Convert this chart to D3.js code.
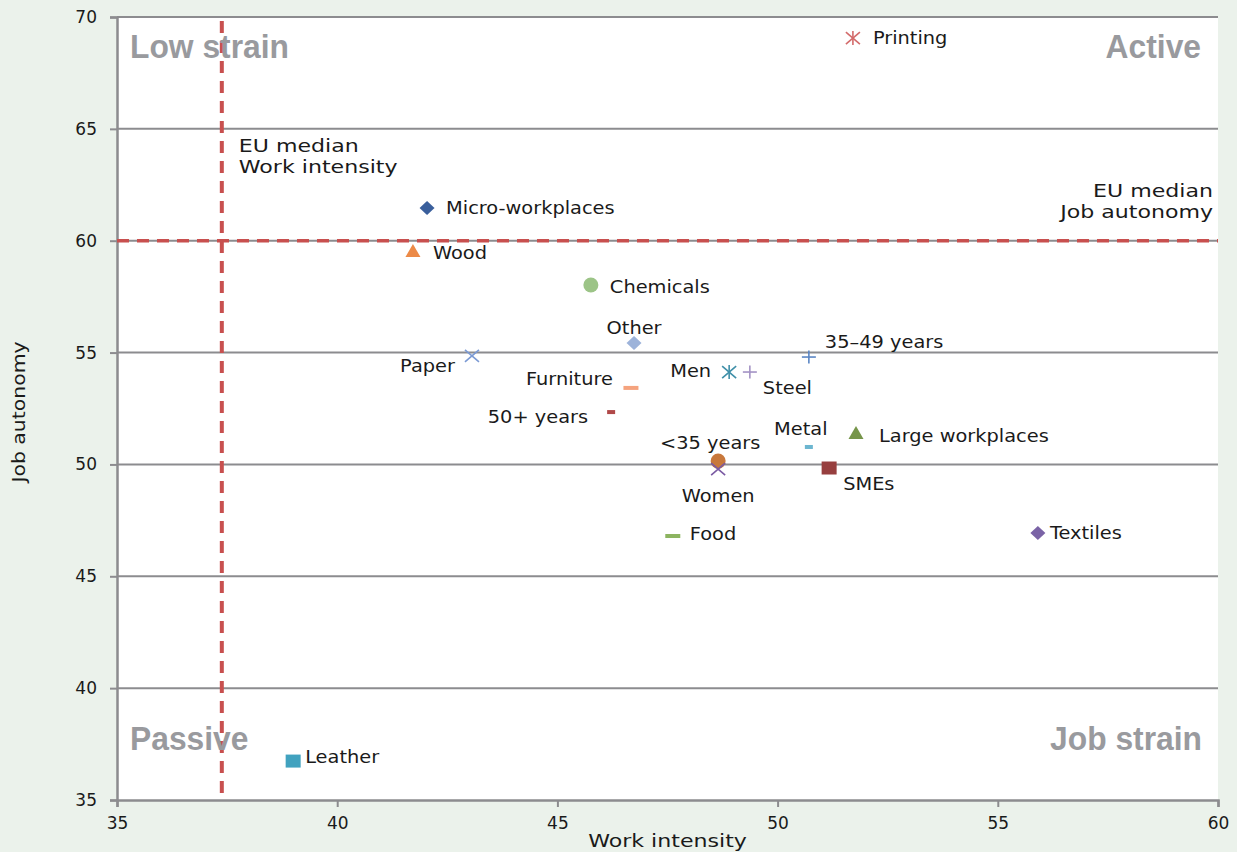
<!DOCTYPE html>
<html lang="en">
<head>
    <meta charset="UTF-8">
    <title>Work intensity vs job autonomy</title>
    <style>
        body { margin: 0; background: #ebf2eb; }
        text { font-family: "DejaVu Sans", Verdana, sans-serif; fill: #1a1a1a; }
        .quad { font-family: "Liberation Sans", Arial, sans-serif; font-weight: bold; font-size: 34px; fill: #999a9e; }
        .lbl { font-size: 17px; }
        .note { font-size: 17px; }
    </style>
    <script src="https://cdn.jsdelivr.net/npm/d3@7"></script>
</head>
<body>
<svg id="main" width="1237" height="852"></svg>
<script>

    // values
    var names = ["Printing", "Micro-workplaces", "Wood", "Chemicals", "Other", "Paper", "Furniture",
        "50+ years", "Men", "Steel", "35\u201349 years", "Metal", "Large workplaces", "<35 years",
        "Women", "SMEs", "Food", "Textiles", "Leather"];
    var workIntensity = [51.71, 42.04, 41.72, 45.76, 46.74, 43.06, 46.67,
        46.22, 48.90, 49.37, 50.71, 50.71, 51.78, 48.65,
        48.65, 51.17, 47.62, 55.91, 39.00];
    var jobAutonomy = [69.06, 61.46, 59.54, 58.02, 55.43, 54.85, 53.42,
        52.34, 54.13, 54.13, 54.80, 50.78, 51.40, 50.15,
        49.79, 49.84, 46.80, 46.93, 36.74];

    var xTicks = [35, 40, 45, 50, 55, 60];
    var yTicks = [35, 40, 45, 50, 55, 60, 65, 70];

    var euMedianWork = 37.38;
    var euMedianAutonomy = 60.0;

    // marker styles
    var shapes = ["asterisk", "diamond", "triangle", "circle", "diamond", "cross", "dash",
        "dashS", "asterisk", "plus", "plus", "dashS", "triangle", "circle",
        "cross", "square", "dash", "diamond", "square"];
    var colors = ["#d36b6b", "#3a5f9c", "#ec8a47", "#9cc487", "#9db3da", "#7b9ad4", "#f5a37e",
        "#b04848", "#3f8fa8", "#a392c4", "#5b86c5", "#6cb6d0", "#76954a", "#c8783c",
        "#7a5aa3", "#973f3f", "#8cb460", "#7a63a6", "#41a2bf"];

    // label placement: [anchor, dx, dy]
    var labelPos = [["start", 20, 0], ["start", 19, 0], ["start", 20, 2], ["start", 19, 2], ["middle", 0, -15],
        ["end", -17, 10], ["end", -18, -9], ["end", -23, 5], ["end", -18, -1], ["start", 13, 16],
        ["start", 16, -15], ["middle", -8, -18], ["start", 23, 3], ["middle", -8, -18], ["middle", 0, 27],
        ["start", 14, 16], ["start", 17, -2], ["start", 12, 0], ["start", 12, -4]];

    var svg = d3.select("svg"),
            margin = {top: 17, right: 19, bottom: 52, left: 117},
            width = +svg.attr("width") - margin.left - margin.right,
            height = +svg.attr("height") - margin.top - margin.bottom;

    svg.append("rect").attr("width", 1237).attr("height", 852).attr("fill", "#ebf2eb");

    var g = svg.append("g").attr("transform", "translate(" + margin.left + "," + margin.top + ")");

    var x = d3.scaleLinear().domain([35, 60]).range([0, width]);
    var y = d3.scaleLinear().domain([35, 70]).range([height, 0]);

    g.append("rect").attr("width", width).attr("height", height).attr("fill", "#fff");

    // horizontal grid
    g.append("g").selectAll("line")
            .data(yTicks.slice(1))
            .enter().append("line")
            .attr("x1", 0).attr("x2", width)
            .attr("y1", function(d) { return y(d); })
            .attr("y2", function(d) { return y(d); })
            .attr("stroke", "#8c8c8f").attr("stroke-width", 2);

    // axes
    var xAxis = g.append("g")
            .attr("transform", "translate(0," + height + ")")
            .call(d3.axisBottom(x).tickValues(xTicks).tickSize(7).tickPadding(10));
    var yAxis = g.append("g")
            .call(d3.axisLeft(y).tickValues(yTicks).tickSize(7).tickPadding(13));
    [xAxis, yAxis].forEach(function(a) {
        a.select(".domain").attr("stroke", "#8c8c8f").attr("stroke-width", 2.5);
        a.selectAll(".tick line").attr("stroke", "#8c8c8f").attr("stroke-width", 2);
        a.selectAll(".tick text").attr("fill", "#1a1a1a")
                .style("font-family", "'DejaVu Sans', Verdana, sans-serif")
                .style("font-size", "17px");
    });

    // EU median lines
    g.append("line")
            .attr("x1", 0).attr("x2", width)
            .attr("y1", y(euMedianAutonomy)).attr("y2", y(euMedianAutonomy))
            .attr("stroke", "#c8504f").attr("stroke-width", 3.5)
            .attr("stroke-dasharray", "12,8");
    g.append("line")
            .attr("x1", x(euMedianWork)).attr("x2", x(euMedianWork))
            .attr("y1", 4).attr("y2", height)
            .attr("stroke", "#c8504f").attr("stroke-width", 4)
            .attr("stroke-dasharray", "12,8");

    // quadrant names [text, x, baseline, anchor]
    var quads = [["Low strain", 13, 41, "start"], ["Active", width - 17, 41, "end"],
        ["Passive", 13, 733, "start"], ["Job strain", width - 16, 733, "end"]];
    g.selectAll(".quad")
            .data(quads)
            .enter().append("text")
            .attr("class", "quad")
            .attr("transform", function(d) { return "translate(" + d[1] + "," + d[2] + ") scale(0.935,1)"; })
            .attr("text-anchor", function(d) { return d[3]; })
            .text(function(d) { return d[0]; });

    // median notes [text, x, baseline, anchor]
    var notes = [["EU median", x(euMedianWork) + 17, 135, "start"],
        ["Work intensity", x(euMedianWork) + 17, 156, "start"],
        ["EU median", width - 5, 180, "end"],
        ["Job autonomy", width - 5, 201, "end"]];
    g.selectAll(".note")
            .data(notes)
            .enter().append("text")
            .attr("class", "note")
            .attr("transform", function(d) { return "translate(" + d[1] + "," + d[2] + ") scale(1.3,1)"; })
            .attr("text-anchor", function(d) { return d[3]; })
            .text(function(d) { return d[0]; });

    // points
    var pts = names.map(function(n, i) {
        return {name: n, wi: workIntensity[i], ja: jobAutonomy[i], shape: shapes[i], color: colors[i], lp: labelPos[i]};
    });

    var node = g.selectAll(".pt")
            .data(pts)
            .enter().append("g")
            .attr("class", "pt")
            .attr("transform", function(d) { return "translate(" + x(d.wi) + "," + y(d.ja) + ")"; });

    node.each(function(d) {
        var m = d3.select(this);
        if (d.shape === "diamond") {
            m.append("path").attr("d", "M0,-7L7.5,0L0,7L-7.5,0Z").attr("fill", d.color);
        } else if (d.shape === "triangle") {
            m.append("path").attr("d", "M0,-7L7.5,6L-7.5,6Z").attr("fill", d.color);
        } else if (d.shape === "circle") {
            m.append("circle").attr("r", 7.5).attr("fill", d.color);
        } else if (d.shape === "square") {
            m.append("rect").attr("x", -7.5).attr("y", -6.5).attr("width", 15).attr("height", 13).attr("fill", d.color);
        } else if (d.shape === "dash") {
            m.append("rect").attr("x", -7.5).attr("y", -2).attr("width", 15).attr("height", 4).attr("fill", d.color);
        } else if (d.shape === "dashS") {
            m.append("rect").attr("x", -4).attr("y", -2).attr("width", 8).attr("height", 4).attr("fill", d.color);
        } else {
            var segs = [];
            if (d.shape === "cross" || d.shape === "asterisk") {
                segs.push([-7, -6, 7, 6], [-7, 6, 7, -6]);
            }
            if (d.shape === "asterisk") {
                segs.push([0, -7, 0, 7]);
            }
            if (d.shape === "plus") {
                segs.push([0, -6.5, 0, 6.5], [-7, 0, 7, 0]);
            }
            segs.forEach(function(p) {
                m.append("line").attr("x1", p[0]).attr("y1", p[1]).attr("x2", p[2]).attr("y2", p[3])
                        .attr("stroke", d.color).attr("stroke-width", 1.6);
            });
        }
        m.append("text")
                .attr("class", "lbl")
                .attr("transform", "translate(" + d.lp[1] + "," + d.lp[2] + ") scale(1.14,1)")
                .attr("dy", "0.35em")
                .attr("text-anchor", d.lp[0])
                .text(d.name);
    });

    // axis titles
    svg.append("text")
            .attr("transform", "translate(" + (margin.left + width / 2) + ",847) scale(1.3,1)")
            .attr("text-anchor", "middle")
            .style("font-size", "17px")
            .text("Work intensity");
    svg.append("text")
            .attr("transform", "translate(25," + (margin.top + 395) + ") rotate(-90) scale(1.2,1)")
            .attr("text-anchor", "middle")
            .style("font-size", "17px")
            .text("Job autonomy");

</script>
</body>
</html>
